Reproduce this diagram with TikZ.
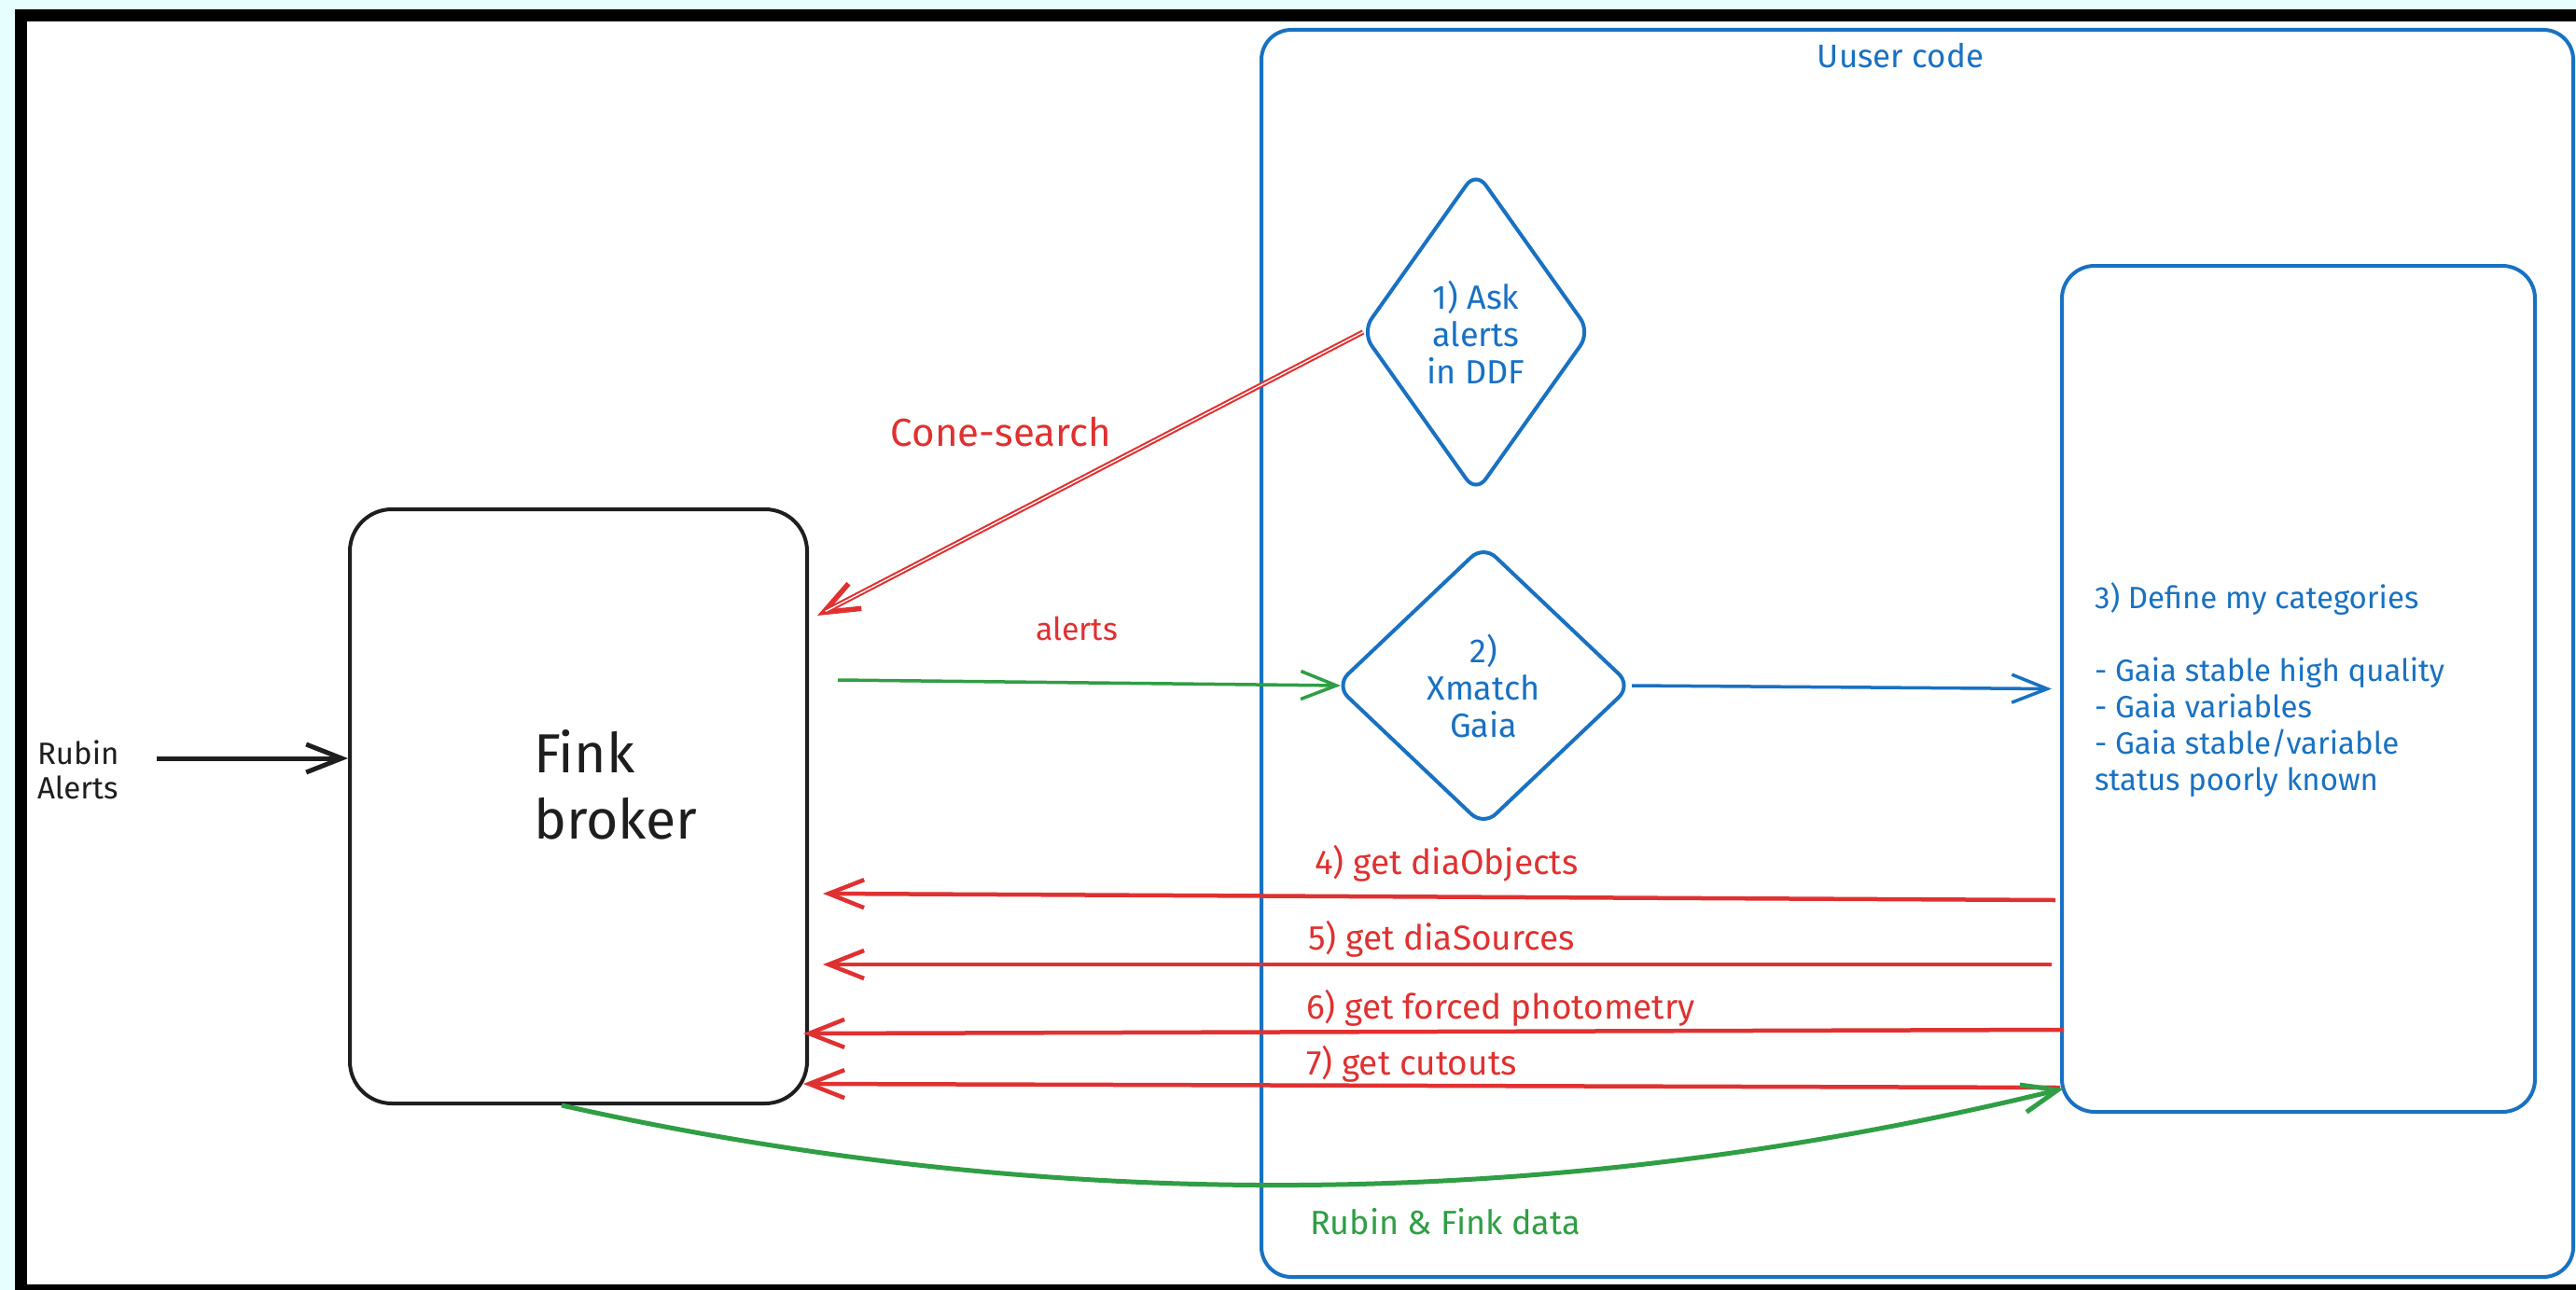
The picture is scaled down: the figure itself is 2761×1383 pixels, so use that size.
\documentclass[tikz,border=0pt]{standalone}
\usepackage{fontspec}
\setmainfont{Fira Sans}
\usetikzlibrary{shapes.geometric,arrows.meta,calc}
\definecolor{exblue}{HTML}{1971C2}
\definecolor{exred}{HTML}{E03131}
\definecolor{exgreen}{HTML}{2F9E44}
\definecolor{exblack}{HTML}{1E1E1E}
\definecolor{bgcyan}{HTML}{E6FEFE}
\begin{document}
\begin{tikzpicture}[x=1pt,y=-1pt,
  txt/.style={inner sep=0pt,outer sep=0pt},
  bluebox/.style={draw=exblue,line width=4pt,rectangle,rounded corners=32pt,inner sep=0pt},
  blackbox/.style={draw=exblack,line width=4pt,rectangle,rounded corners=45pt,inner sep=0pt},
  dia/.style={draw=exblue,line width=4pt,diamond,rounded corners=18pt,inner sep=0pt,text=exblue,align=center,font=\fontsize{36}{40}\selectfont},
  barb/.style={-{Straight Barb[length=38pt,width=30pt]}},
  redarr/.style={barb,draw=exred,line width=4.5pt},
  grarr/.style={barb,draw=exgreen,line width=3.5pt},
  bluearr/.style={barb,draw=exblue,line width=3.5pt},
  blkarr/.style={barb,draw=exblack,line width=5pt},
  redlbl/.style={txt,text=exred,font=\fontsize{37}{44}\selectfont}
]
\useasboundingbox (0,0) rectangle (2761,1383);
\fill[bgcyan] (0,0) rectangle (2761,1383);
\fill[black] (16,10) rectangle (2761,1383);
\fill[white] (29,23) rectangle (2761,1377);

% containers
\node[bluebox,minimum width=1406pt,minimum height=1337pt] (user) at (2055,700.5) {};
\node[txt,text=exblue,font=\fontsize{35}{40}\selectfont] (usertxt) at (2037,60) {Uuser code};

\node[blackbox,minimum width=490pt,minimum height=637pt] (fink) at (620,864.5) {};
\node[txt,anchor=west,align=left,text=exblack,font=\fontsize{59}{71}\selectfont] (finktxt) at (572,841) {Fink\\broker};

\node[txt,anchor=west,align=left,text=exblack,font=\fontsize{33}{37}\selectfont] (rubin) at (40,825) {Rubin\\Alerts};

\node[dia,minimum width=246pt,minimum height=346pt] (d1) at (1582,356) {1) Ask\\alerts\\in DDF};
\node[dia,minimum width=318pt,minimum height=302pt] (d2) at (1590,735) {2)\\Xmatch\\Gaia};

\node[draw=exblue,line width=4pt,rectangle,rounded corners=35pt,inner sep=0pt,minimum width=507pt,minimum height=907pt] (box3) at (2463.5,738.5) {};
\node[txt,anchor=west,align=left,text=exblue,font=\fontsize{33}{39}\selectfont] (box3txt) at (2245,740)
  {3) Define my categories\\\mbox{}\\- Gaia stable high quality\\- Gaia variables\\- Gaia stable/variable\\status poorly known};

% connectors
\draw[blkarr] ([xshift=41pt,yshift=12pt]rubin.east) -- ([yshift=51.5pt]fink.west);

\draw[redarr,line width=5.5pt] ([xshift=4pt]d1.west) -- ([xshift=9pt,yshift=204.5pt]fink.east);
\draw[white,line width=1.3pt,shorten >=10pt] ([xshift=4pt]d1.west) -- ([xshift=9pt,yshift=204.5pt]fink.east);
\node[txt,text=exred,font=\fontsize{42}{48}\selectfont] (conelbl) at (1073,463) {Cone-search};

\draw[grarr] ([xshift=31pt,yshift=135.5pt]fink.east) -- ([xshift=8pt]d2.west);
\node[txt,text=exred,font=\fontsize{34}{40}\selectfont] (alertslbl) at (1154,674) {alerts};

\draw[bluearr] ([xshift=-2pt]d2.east) -- ([xshift=-9pt]box3.west);

\draw[redarr] ([xshift=-5pt,yshift=-226.5pt]box3.west) -- ([xshift=15pt,yshift=-93.5pt]fink.east);
\draw[redarr] ([xshift=-9pt,yshift=-295.5pt]box3.west) -- ([xshift=15pt,yshift=-169.5pt]fink.east);
\draw[redarr] ([xshift=4pt,yshift=-365.5pt]box3.west) -- ([xshift=-6pt,yshift=-243.5pt]fink.east);
\draw[redarr] ([yshift=-427.5pt]box3.west) -- ([xshift=-6pt,yshift=-297.5pt]fink.east);
\node[redlbl,anchor=west] (l4) at (1409,926) {4) get diaObjects};
\node[redlbl,anchor=west] (l5) at (1402,1007) {5) get diaSources};
\node[redlbl,anchor=west] (l6) at (1400,1081) {6) get forced photometry};
\node[redlbl,anchor=west] (l7) at (1400,1141) {7) get cutouts};

\draw[barb,draw=exgreen,line width=5pt] ([xshift=-18pt]fink.south) .. controls (1134,1304) and (1671,1299) .. ([xshift=4pt,yshift=-428.5pt]box3.west);
\node[txt,anchor=west,text=exgreen,font=\fontsize{36}{40}\selectfont] (datalbl) at (1404,1310) {Rubin \& Fink data};
\end{tikzpicture}
\end{document}
